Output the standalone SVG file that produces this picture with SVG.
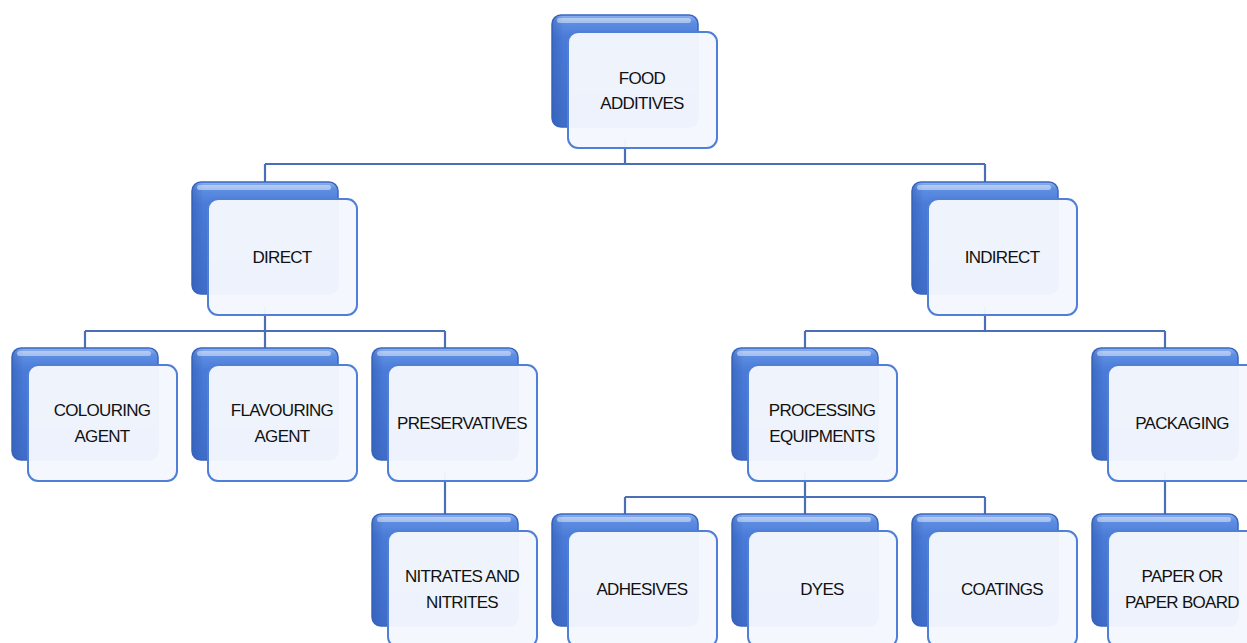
<svg xmlns="http://www.w3.org/2000/svg" width="1247" height="643" viewBox="0 0 1247 643">
<defs>
<linearGradient id="bk" x1="0" y1="0" x2="0" y2="1">
<stop offset="0" stop-color="#8fb3f0"/>
<stop offset="0.06" stop-color="#5f8fe2"/>
<stop offset="0.2" stop-color="#4a7bd8"/>
<stop offset="1" stop-color="#3e6cc8"/>
</linearGradient>
<linearGradient id="bkx" x1="0" y1="0" x2="1" y2="0">
<stop offset="0" stop-color="#2f5bb0" stop-opacity="0.5"/>
<stop offset="0.08" stop-color="#2f5bb0" stop-opacity="0"/>
<stop offset="1" stop-color="#2f5bb0" stop-opacity="0"/>
</linearGradient>
<g id="node">
<rect x="0" y="0" width="146" height="112" rx="9" fill="url(#bk)" stroke="#3a66c0" stroke-width="1.5"/>
<rect x="0" y="0" width="146" height="112" rx="9" fill="url(#bkx)"/>
<rect x="5" y="3" width="134" height="5" rx="2.5" fill="#ffffff" opacity="0.45"/>
<rect x="16" y="17" width="149" height="116" rx="10" fill="#f4f7fd" fill-opacity="0.97" stroke="#4f7fd6" stroke-width="2"/>
</g>
</defs>
<style>
.c{stroke:#4a6fb8;stroke-width:2.2;fill:none}
.t{font-family:"Liberation Sans",Arial,sans-serif;font-size:17px;letter-spacing:-0.7px;fill:#111111;text-anchor:middle}
</style>
<rect width="1247" height="643" fill="#ffffff"/>
<g id="connectors">
<path class="c" d="M625 140V164M265 164H985M265 164V182M985 164V182"/>
<path class="c" d="M265 306V331M85 331H445M85 331V348M265 331V348M445 331V348"/>
<path class="c" d="M985 306V331M805 331H1165M805 331V348M1165 331V348"/>
<path class="c" d="M445 472V514"/>
<path class="c" d="M805 472V497M625 497H985M625 497V514M805 497V514M985 497V514"/>
<path class="c" d="M1165 472V514"/>
</g>
<g id="n-food"><use href="#node" x="552" y="15"/><text class="t" x="642" y="84">FOOD</text><text class="t" x="642" y="109">ADDITIVES</text></g>
<g id="n-direct"><use href="#node" x="192" y="182"/><text class="t" x="282" y="263">DIRECT</text></g>
<g id="n-indirect"><use href="#node" x="912" y="182"/><text class="t" x="1002" y="263">INDIRECT</text></g>
<g id="n-colouring"><use href="#node" x="12" y="348"/><text class="t" x="102" y="416">COLOURING</text><text class="t" x="102" y="442">AGENT</text></g>
<g id="n-flavouring"><use href="#node" x="192" y="348"/><text class="t" x="282" y="416">FLAVOURING</text><text class="t" x="282" y="442">AGENT</text></g>
<g id="n-preservatives"><use href="#node" x="372" y="348"/><text class="t" x="462" y="429">PRESERVATIVES</text></g>
<g id="n-processing"><use href="#node" x="732" y="348"/><text class="t" x="822" y="416">PROCESSING</text><text class="t" x="822" y="442">EQUIPMENTS</text></g>
<g id="n-packaging"><use href="#node" x="1092" y="348"/><text class="t" x="1182" y="429">PACKAGING</text></g>
<g id="n-nitrates"><use href="#node" x="372" y="514"/><text class="t" x="462" y="582">NITRATES AND</text><text class="t" x="462" y="608">NITRITES</text></g>
<g id="n-adhesives"><use href="#node" x="552" y="514"/><text class="t" x="642" y="595">ADHESIVES</text></g>
<g id="n-dyes"><use href="#node" x="732" y="514"/><text class="t" x="822" y="595">DYES</text></g>
<g id="n-coatings"><use href="#node" x="912" y="514"/><text class="t" x="1002" y="595">COATINGS</text></g>
<g id="n-paper"><use href="#node" x="1092" y="514"/><text class="t" x="1182" y="582">PAPER OR</text><text class="t" x="1182" y="608">PAPER BOARD</text></g>
</svg>
